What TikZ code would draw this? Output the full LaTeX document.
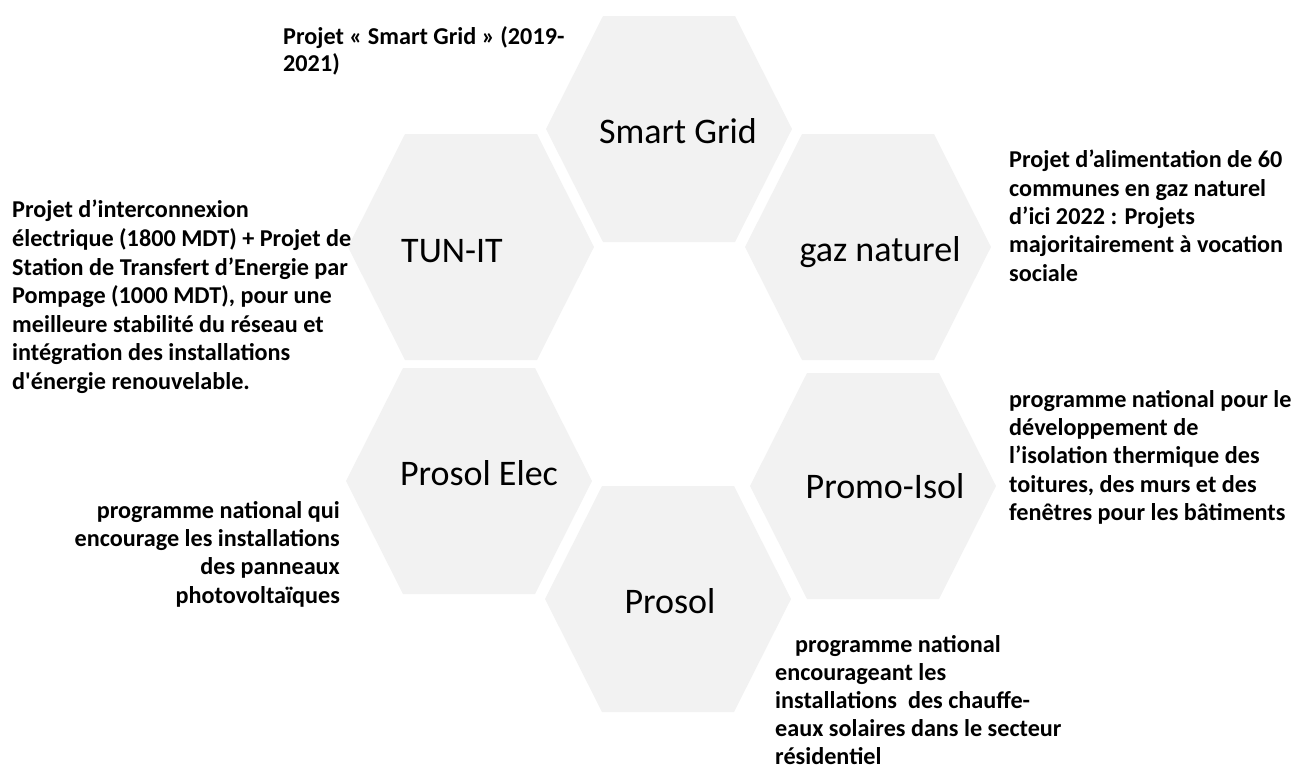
\documentclass[tikz,border=0pt]{standalone}
\usepackage{fontspec}
\setmainfont{Carlito}[Ligatures=TeXOff]
\definecolor{hexgray}{HTML}{F2F2F2}

\begin{document}
\begin{tikzpicture}[x=1pt, y=-1pt,
  hexa/.style={fill=hexgray},
  title/.style={font=\fontsize{36}{40}\selectfont, anchor=base, inner sep=0pt},
  note/.style={font=\bfseries\fontsize{24.2}{28.3}\selectfont, inner sep=0pt}]
  \useasboundingbox (0,0) rectangle (1295,769);

  % the six cells
  \foreach \cx/\cy in {669/129, 471/247, 868/247, 469/481, 873/486, 668/599}
    \fill[hexa] (\cx-123,\cy) -- (\cx-66,\cy-113) -- (\cx+66,\cy-113)
      -- (\cx+123,\cy) -- (\cx+66,\cy+113) -- (\cx-66,\cy+113) -- cycle;

  \node[title] (smart) at (678,143) {Smart Grid};
  \node[title] (tunit) at (452,262) {TUN-IT};
  \node[title] (gaz) at (880,261) {gaz naturel};
  \node[title] (elec) at (479,485) {Prosol Elec};
  \node[title] (isol) at (885,498) {Promo-Isol};
  \node[title] (prosol) at (670,613) {Prosol};

  % descriptions
  \node[note, anchor=north west, align=left, font=\bfseries\fontsize{24.2}{27}\selectfont] (smartnote) at (283,26)
    {Projet « Smart Grid » (2019-\\2021)};
  \node[note, anchor=north west, align=left, font=\bfseries\fontsize{24.2}{28.6}\selectfont] (tunitnote) at (12,200)
    {Projet d’interconnexion\\électrique (1800 MDT) + Projet de\\Station de Transfert d’Energie par\\Pompage (1000 MDT), pour une\\meilleure stabilité du réseau et\\intégration des installations\\d'énergie renouvelable.};
  \node[note, anchor=north west, align=left] (gaznote) at (1009,150)
    {Projet d’alimentation de 60\\communes en gaz naturel\\d’ici 2022 : Projets\\majoritairement à vocation\\sociale};
  \node[note, anchor=north west, align=left] (isolnote) at (1009,390)
    {programme national pour le\\développement de\\l’isolation thermique des\\toitures, des murs et des\\fenêtres pour les bâtiments};
  \node[note, anchor=north east, align=right] (elecnote) at (340,501)
    {programme national qui\\encourage les installations\\des panneaux\\photovoltaïques};
  \node[note, anchor=north west, align=left, font=\bfseries\fontsize{24.2}{28}\selectfont] (prosolnote) at (775,635)
    {\hspace*{20pt}programme national\\encourageant les\\installations\ \ des chauffe-\\eaux solaires dans le secteur\\résidentiel};
\end{tikzpicture}
\end{document}
